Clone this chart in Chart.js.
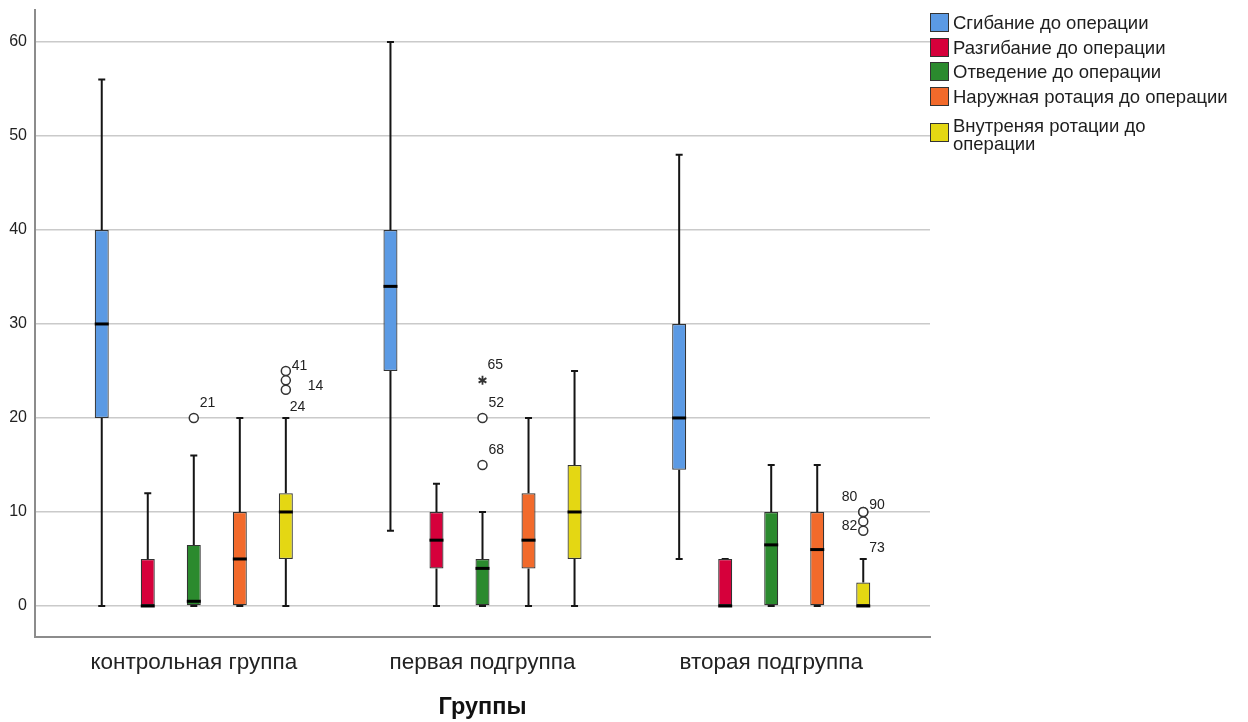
<!DOCTYPE html>
<html lang="ru">
<head>
<meta charset="utf-8">
<title>Группы</title>
<script src="https://cdn.jsdelivr.net/npm/chart.js@4.4.1/dist/chart.umd.min.js"></script>
<style>
  html, body { margin: 0; padding: 0; background: #fff; }
  #wrap { position: relative; width: 1248px; height: 722px; overflow: hidden; }
  #legend { position: absolute; left: 930px; top: 0; width: 300px; height: 200px; overflow: hidden;
            font-family: "Liberation Sans", Arial, sans-serif; font-size: 18.5px; color: #1e1e1e; }
  .item { position: absolute; left: 0; display: flex; align-items: center; white-space: nowrap; }
  .item.wrap { align-items: flex-start; white-space: normal; }
  .swatch { width: 17px; height: 17px; border: 1px solid #333; flex: none; margin-right: 4px; }
  .item.wrap .swatch { margin-top: 6px; }
  .label { line-height: 19px; }
  .item.wrap .label { line-height: 18px; }
</style>
</head>
<body>
<div id="wrap">
  <canvas id="chart" width="1248" height="722"></canvas>
  <div id="legend"></div>
</div>
<script>
// Groups on the x axis
const groups = ['контрольная группа', 'первая подгруппа', 'вторая подгруппа'];

// Measured movements (one box per movement inside each group)
const seriesNames = [
  'Сгибание до операции',
  'Разгибание до операции',
  'Отведение до операции',
  'Наружная ротация до операции',
  'Внутреняя ротации до операции'
];
const seriesColors = ['#5b9ae4', '#d6003b', '#2b8a2e', '#f26a2b', '#e4d713'];

// Box-plot statistics: rows = movements, columns = groups
const whiskerLow  = [[0, 8, 5],    [0, 0, 0],  [0, 0, 0],    [0, 0, 0],  [0, 0, 0]];
const quartile1   = [[20, 25, 14.5], [0, 4, 0], [0, 0, 0],    [0, 4, 0],  [5, 5, 0]];
const medians     = [[30, 34, 20], [0, 7, 0],  [0.5, 4, 6.5], [5, 7, 6],  [10, 10, 0]];
const quartile3   = [[40, 40, 30], [5, 10, 5], [6.5, 5, 10],  [10, 12, 10], [12, 15, 2.5]];
const whiskerHigh = [[56, 60, 48], [12, 13, 5], [16, 10, 15], [20, 20, 15], [20, 25, 5]];

// Outlying cases
const outlierSeries  = [2, 4, 4, 4, 2, 2, 2, 4, 4, 4, 4];
const outlierGroup   = [0, 0, 0, 0, 1, 1, 1, 2, 2, 2, 2];
const outlierValue   = [20, 25, 24, 23, 24, 20, 15, 10, 10, 9, 8];
const outlierCase    = ['21', '41', '14', '24', '65', '52', '68', '80', '90', '82', '73'];
const outlierExtreme = [false, false, false, false, true, false, false, false, false, false, false];

// Y axis tick values
const yTicks = [0, 10, 20, 30, 40, 50, 60];

// Case-number label placement next to each marker: [dx, dy, align]
const caseLabelPlacement = [
  [6, -15, 'left'], [6, -5, 'left'], [22, 6, 'left'], [4, 17, 'left'],
  [5, -15, 'left'], [6, -15, 'left'], [6, -15, 'left'],
  [-6, -15, 'right'], [6, -7, 'left'], [-6, 5, 'right'], [6, 17, 'left']
];
const legendTops = [13, 37.5, 62, 86.5, 117];
const legendWrapWidth = [null, null, null, null, 215];

Chart.defaults.font.family = '"Liberation Sans", Arial, sans-serif';

const datasets = seriesNames.map((name, s) => ({
  label: name,
  data: groups.map((_, g) => ({ x: g, y: [quartile1[s][g], quartile3[s][g]] })),
  backgroundColor: seriesColors[s],
  borderColor: '#333',
  borderWidth: 1.2,
  borderSkipped: false,
  categoryPercentage: 0.797,
  barPercentage: 0.304
}));

function barAt(chart, s, g) {
  return chart.getDatasetMeta(s).data[g];
}

const boxPlotParts = {
  id: 'boxPlotParts',
  beforeDatasetsDraw(chart) {
    const ctx = chart.ctx, y = chart.scales.y;
    ctx.save();
    ctx.strokeStyle = '#151515';
    ctx.lineWidth = 2;
    const cap = 3.5;
    seriesNames.forEach((_, s) => {
      groups.forEach((_, g) => {
        const x = barAt(chart, s, g).x;
        const hi = y.getPixelForValue(whiskerHigh[s][g]);
        const lo = y.getPixelForValue(whiskerLow[s][g]);
        const top = y.getPixelForValue(quartile3[s][g]);
        const bot = y.getPixelForValue(quartile1[s][g]);
        ctx.beginPath();
        ctx.moveTo(x, top); ctx.lineTo(x, hi);
        ctx.moveTo(x - cap, hi); ctx.lineTo(x + cap, hi);
        ctx.moveTo(x, bot); ctx.lineTo(x, lo);
        ctx.moveTo(x - cap, lo); ctx.lineTo(x + cap, lo);
        ctx.stroke();
      });
    });
    ctx.restore();
  },
  afterDatasetsDraw(chart) {
    const ctx = chart.ctx, y = chart.scales.y;
    ctx.save();
    // medians
    ctx.strokeStyle = '#000';
    ctx.lineWidth = 3;
    seriesNames.forEach((_, s) => {
      groups.forEach((_, g) => {
        const bar = barAt(chart, s, g);
        const m = y.getPixelForValue(medians[s][g]);
        ctx.beginPath();
        ctx.moveTo(bar.x - bar.width / 2, m);
        ctx.lineTo(bar.x + bar.width / 2, m);
        ctx.stroke();
      });
    });
    // outliers and extremes
    outlierValue.forEach((v, i) => {
      const x = barAt(chart, outlierSeries[i], outlierGroup[i]).x;
      const py = y.getPixelForValue(v);
      ctx.strokeStyle = '#333';
      ctx.lineWidth = 1.5;
      if (outlierExtreme[i]) {
        const r = 4.5;
        ctx.lineWidth = 1.8;
        ctx.beginPath();
        for (let k = 0; k < 3; k++) {
          const a = Math.PI / 2 + k * Math.PI / 3;
          ctx.moveTo(x - r * Math.cos(a), py - r * Math.sin(a));
          ctx.lineTo(x + r * Math.cos(a), py + r * Math.sin(a));
        }
        ctx.stroke();
      } else {
        ctx.fillStyle = '#fff';
        ctx.beginPath();
        ctx.arc(x, py, 4.5, 0, Math.PI * 2);
        ctx.fill();
        ctx.stroke();
      }
    });
    ctx.fillStyle = '#222';
    ctx.font = '14px "Liberation Sans", Arial, sans-serif';
    ctx.textBaseline = 'middle';
    outlierValue.forEach((v, i) => {
      const x = barAt(chart, outlierSeries[i], outlierGroup[i]).x;
      const py = y.getPixelForValue(v);
      const [dx, dy, align] = caseLabelPlacement[i];
      ctx.textAlign = align;
      ctx.fillText(outlierCase[i], x + dx, py + dy);
    });
    ctx.restore();
  }
};

new Chart(document.getElementById('chart'), {
  type: 'bar',
  data: { datasets },
  plugins: [boxPlotParts],
  options: {
    responsive: false,
    animation: false,
    layout: { padding: { top: 10, right: 318, left: 0, bottom: 0 } },
    plugins: { legend: { display: false }, tooltip: { enabled: false } },
    scales: {
      x: {
        type: 'linear',
        min: -0.55,
        max: 2.55,
        offset: false,
        grid: { display: false, drawTicks: false, offset: false },
        border: { display: true, color: '#8c8c8c', width: 2 },
        afterBuildTicks(scale) { scale.ticks = groups.map((_, i) => ({ value: i })); },
        afterFit(scale) { scale.height = 85; scale.paddingLeft = 0; scale.paddingRight = 0; },
        ticks: {
          autoSkip: false, maxRotation: 0, padding: 12,
          color: '#222', font: { size: 22.5 },
          callback: (v) => groups[v]
        },
        title: {
          display: true, text: 'Группы', color: '#111',
          font: { size: 23.5, weight: 'bold' }, padding: { top: 0, bottom: 0 }
        }
      },
      y: {
        min: -3.3,
        max: 63.4,
        grid: { color: '#cacaca', lineWidth: 1.5, drawTicks: false },
        border: { color: '#8c8c8c', width: 2 },
        afterBuildTicks(scale) { scale.ticks = yTicks.map(v => ({ value: v })); },
        afterFit(scale) { scale.width = 35; scale.paddingTop = 0; scale.paddingBottom = 0; },
        ticks: { stepSize: 10, padding: 8, color: '#222', font: { size: 16 } }
      }
    }
  }
});

// Legend
const legend = document.getElementById('legend');
seriesNames.forEach((name, s) => {
  const item = document.createElement('div');
  item.className = 'item' + (legendWrapWidth[s] ? ' wrap' : '');
  item.style.top = legendTops[s] + 'px';
  const sw = document.createElement('div');
  sw.className = 'swatch';
  sw.style.background = seriesColors[s];
  const lab = document.createElement('div');
  lab.className = 'label';
  lab.textContent = name;
  if (legendWrapWidth[s]) lab.style.width = legendWrapWidth[s] + 'px';
  item.appendChild(sw);
  item.appendChild(lab);
  legend.appendChild(item);
});
</script>
</body>
</html>
